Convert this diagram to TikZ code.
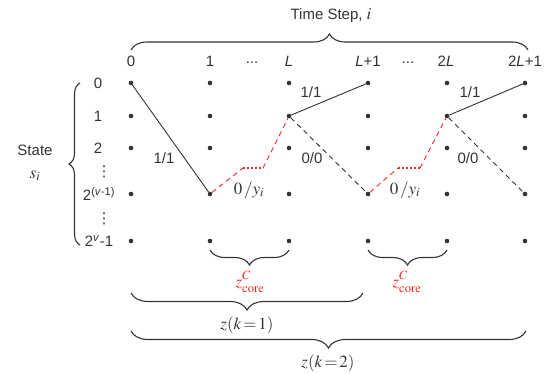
\documentclass[tikz,border=0pt]{standalone}
\usepackage{mathptmx}
\usepackage{fontspec}
\setmainfont{Liberation Sans}
\newfontfamily\djvfont{DejaVu Sans}
\usetikzlibrary{decorations.pathreplacing}
\definecolor{ink}{HTML}{333333}
\definecolor{redc}{HTML}{EE2A24}
\newcommand{\zcorelabel}{$z^{\raisebox{1.5pt}{$\scriptstyle C$}}_{\raisebox{-1.5pt}{$\scriptstyle\mathrm{core}$}}$}
\begin{document}
\begin{tikzpicture}[x=1pt,y=-1pt,
  font=\fontsize{15}{18}\selectfont, text=ink,
  dotnode/.style={circle,fill=ink,inner sep=0pt,minimum size=4.6pt},
  lbl/.style={inner sep=0pt,anchor=center},
  mathlbl/.style={inner sep=0pt,anchor=center,font=\fontsize{17}{20}\selectfont},
  vdotlbl/.style={inner sep=0pt,anchor=center,font=\djvfont\fontsize{15}{15}\selectfont},
  solidedge/.style={draw=ink,line width=0.9pt},
  dashedge/.style={draw=ink,line width=0.9pt,dash pattern=on 5pt off 4pt},
  rededge/.style={draw=redc,line width=0.9pt,dash pattern=on 5pt off 4pt},
  reddot/.style={draw=redc,line width=1.1pt,dash pattern=on 2pt off 2pt},
  bracedec/.style={draw=ink,line width=1.1pt,decorate,decoration={brace,amplitude=#1}},
]
\useasboundingbox (0,0) rectangle (553,373);
% grid of dots
\foreach \c/\x in {0/131,1/210,2/289,3/368,4/447,5/525}{
  \foreach \r/\y in {0/83,1/116,2/148,3/194,4/241}{
    \node[dotnode] (d\c\r) at (\x,\y) {};
  }
}
% column headers
\node[lbl] (h0) at (131,61) {0};
\node[lbl] (h1) at (210,61) {1};
\node[lbl] (hd1) at (252,63) {...};
\node[lbl] (h2) at (289,61) {\textit{L}};
\node[lbl] (h3) at (368,61) {\textit{L}+1};
\node[lbl] (hd2) at (408,63) {...};
\node[lbl] (h4) at (446,61) {2\textit{L}};
\node[lbl] (h5) at (525,61) {2\textit{L}+1};
% time step
\node[lbl] (ts) at (331,16) {Time Step, {\fontsize{17}{20}\selectfont$i$}};
\coordinate (tbL) at (131,50);
\coordinate (tbR) at (528,50);
\draw[bracedec=16] (tbL) -- (tbR);
% state labels
\node[lbl] (s0) at (98,83) {0};
\node[lbl] (s1) at (98,116) {1};
\node[lbl] (s2) at (98,148) {2};
\node[vdotlbl] (sv1) at (104,172) {⋮};
\node[lbl] (s3) at (99,194) {2\textsuperscript{(\textit{v}-1)}};
\node[vdotlbl] (sv2) at (104,219) {⋮};
\node[lbl] (s4) at (99,241) {2\textsuperscript{\textit{v}}-1};
\coordinate (lbB) at (80,245);
\coordinate (lbT) at (80,83);
\draw[bracedec=11] (lbB) -- (lbT);
\node[lbl] (st) at (35,150) {State};
\node[mathlbl] (si) at (35,176) {$s_i$};
% edges
\draw[solidedge] (d00) -- (d13);
\node[lbl] (e1) at (164,158) {1/1};
\draw[solidedge] (d21) -- (d30);
\node[lbl] (e2) at (311,92) {1/1};
\draw[dashedge] (d21) -- (d33);
\node[lbl] (e3) at (312,158) {0/0};
\draw[solidedge] (d41) -- (d50);
\node[lbl] (e4) at (470,92) {1/1};
\draw[dashedge] (d41) -- (d53);
\node[lbl] (e5) at (468,158) {0/0};
% red paths
\coordinate (ra1) at (243,168);
\coordinate (rb1) at (263,168);
\draw[rededge] (d13) -- (ra1);
\draw[reddot] (ra1) -- (rb1);
\draw[rededge] (rb1) -- (d21);
\node[mathlbl] (y1) at (249,190) {$0\,/y_i$};
\coordinate (ra2) at (398,168);
\coordinate (rb2) at (420,168);
\draw[rededge] (d33) -- (ra2);
\draw[reddot] (ra2) -- (rb2);
\draw[rededge] (rb2) -- (d41);
\node[mathlbl] (y2) at (405,190) {$0\,/y_i$};
% bottom braces
\coordinate (c1R) at (289,250);
\coordinate (c1L) at (210,250);
\draw[bracedec=15] (c1R) -- (c1L);
\node[mathlbl,text=redc] (zc1) at (250,282) {\zcorelabel};
\coordinate (c2R) at (447,250);
\coordinate (c2L) at (368,250);
\draw[bracedec=15] (c2R) -- (c2L);
\node[mathlbl,text=redc] (zc2) at (407,282) {\zcorelabel};
\coordinate (k1R) at (363,293);
\coordinate (k1L) at (131,293);
\draw[bracedec=17] (k1R) -- (k1L);
\node[mathlbl] (zk1) at (247,325) {$z(k\!=\!1)$};
\coordinate (k2R) at (526,331);
\coordinate (k2L) at (131,331);
\draw[bracedec=17] (k2R) -- (k2L);
\node[mathlbl] (zk2) at (328,363) {$z(k\!=\!2)$};
\end{tikzpicture}
\end{document}
